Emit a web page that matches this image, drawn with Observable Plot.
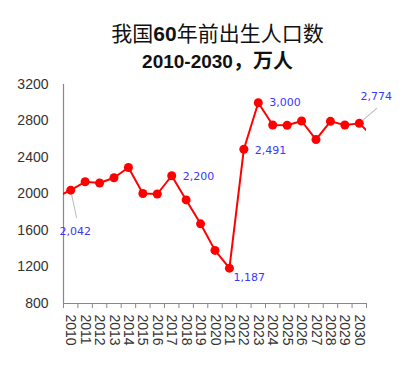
<!DOCTYPE html>
<html><head><meta charset="utf-8">
<script src="https://cdn.jsdelivr.net/npm/d3@7"></script>
<script src="https://cdn.jsdelivr.net/npm/@observablehq/plot@0.6"></script>
<style>
body{margin:0;background:#fff;}
#wrap{position:relative;width:413px;height:390px;overflow:hidden;}
#title{position:absolute;left:11px;top:0;width:413px;text-align:center;font-family:"Noto Sans CJK SC","Liberation Sans",sans-serif;color:#111;}
#title .l1{position:absolute;left:0;width:100%;top:18px;font-size:21px;line-height:28px;font-weight:400;}
#title .l1 b{font-family:"Liberation Sans",sans-serif;font-weight:bold;}
#title .l2{position:absolute;left:0;width:100%;top:46px;font-size:20px;line-height:28px;font-weight:bold;}
#title .l2 span{font-family:"Liberation Sans",sans-serif;font-size:19px;}
#chart{position:absolute;left:0;top:0;}
</style></head><body>
<div id="wrap">
<div id="chart"></div>
<div id="title"><div class="l1">我国<b>60</b>年前出生人口数</div><div class="l2"><span>2010-2030</span>，万人</div></div>
</div>
<script>
// series (2009 and 2031 are the off-axis ends of the line, clipped at the frame)
const years  = [2009,2010,2011,2012,2013,2014,2015,2016,2017,2018,2019,2020,2021,2022,2023,2024,2025,2026,2027,2028,2029,2030,2031];
const births = [1965,2042,2134,2120,2178,2290,2005,2000,2200,1935,1673,1382,1187,2491,3000,2756,2753,2800,2596,2796,2756,2774,2622];
const shownYears = [2010,2011,2012,2013,2014,2015,2016,2017,2018,2019,2020,2021,2022,2023,2024,2025,2026,2027,2028,2029,2030];
const yTicks = [800,1200,1600,2000,2400,2800,3200];
const labelYears = [2010,2017,2021,2022,2023,2030];

const data = years.map((y,i) => ({year:y, value:births[i]}));
const shown = data.filter(d => shownYears.includes(d.year));
const lab = y => data.filter(d => d.year === y);
const fmt = d3.format(",");
const edges = shownYears.map(y => y - 0.5).concat([shownYears[shownYears.length-1] + 0.5]);

const leaderShape = {draw(ctx, l){ ctx.moveTo(0,-5); ctx.lineTo(0,-l); }};
const labelFont = {fontFamily:"DejaVu Sans", fontSize:11, fill:"#3838ff"};

const chart = Plot.plot({
  width:413, height:390,
  marginTop:84, marginBottom:87, marginLeft:63, marginRight:47,
  x:{domain:[shownYears[0]-0.5, shownYears[shownYears.length-1]+0.5], axis:null},
  y:{domain:[yTicks[0], yTicks[yTicks.length-1]], axis:null},
  style:{fontFamily:"Liberation Sans", background:"transparent"},
  marks:[
    Plot.axisY({ticks:yTicks, tickSize:0, tickPadding:15, fontSize:14, fill:"#333", label:null, tickFormat:d => String(d)}),
    Plot.axisX({ticks:edges, tickSize:5, stroke:"#888", tickFormat:() => "", label:null}),
    Plot.axisX({ticks:shownYears, tickSize:0, tickPadding:11, tickRotate:90, tickFormat:d => String(d), fontSize:14, fill:"#333", label:null}),
    Plot.ruleY([yTicks[0]], {stroke:"#888", strokeWidth:1.2}),
    Plot.ruleX([shownYears[0]-0.5], {stroke:"#888", strokeWidth:1.2}),
    Plot.line(data, {x:"year", y:"value", stroke:"#ff0000", strokeWidth:2, clip:true}),
    Plot.vector(lab(2010), {x:"year", y:"value", length:28, rotate:168, anchor:"start", shape:leaderShape, stroke:"#bbb", strokeWidth:1}),
    Plot.vector(lab(2030), {x:"year", y:"value", length:23, rotate:49, anchor:"start", shape:leaderShape, stroke:"#bbb", strokeWidth:1}),
    Plot.dot(shown, {x:"year", y:"value", r:4.5, fill:"#ff0000", stroke:"none"}),
    Plot.text(lab(2010), {x:"year", y:"value", text:d => fmt(d.value), dx:4.5, dy:41, textAnchor:"middle", ...labelFont}),
    Plot.text(lab(2017), {x:"year", y:"value", text:d => fmt(d.value), dx:11, dy:1, textAnchor:"start", ...labelFont}),
    Plot.text(lab(2021), {x:"year", y:"value", text:d => fmt(d.value), dx:4, dy:9, textAnchor:"start", ...labelFont}),
    Plot.text(lab(2022), {x:"year", y:"value", text:d => fmt(d.value), dx:11, dy:1, textAnchor:"start", ...labelFont}),
    Plot.text(lab(2023), {x:"year", y:"value", text:d => fmt(d.value), dx:11, dy:0, textAnchor:"start", ...labelFont}),
    Plot.text(lab(2030), {x:"year", y:"value", text:d => fmt(d.value), dx:17, dy:-27, textAnchor:"middle", ...labelFont})
  ]
});
document.getElementById("chart").appendChild(chart);
</script>
</body></html>
